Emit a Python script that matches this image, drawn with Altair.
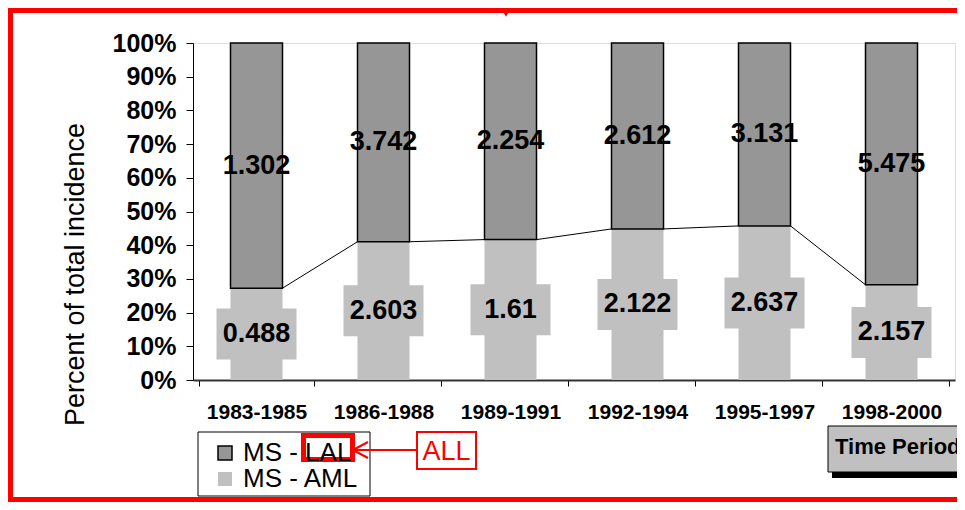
import altair as alt
import pandas as pd

periods = ["1983-1985", "1986-1988", "1989-1991", "1992-1994", "1995-1997", "1998-2000"]
series_names = ["MS - LAL", "MS - AML"]
lal = [1.302, 3.742, 2.254, 2.612, 3.131, 5.475]
aml = [0.488, 2.603, 1.61, 2.122, 2.637, 2.157]
y_ticks = [0, 0.1, 0.2, 0.3, 0.4, 0.5, 0.6, 0.7, 0.8, 0.9, 1.0]

FONT = "Liberation Sans"
DARK = "#969696"
LIGHT = "#C0C0C0"

rows = []
for p, a, l in zip(periods, aml, lal):
    tot = a + l
    fa = a / tot
    rows.append({"period": p, "series": "MS - AML", "value": a, "label": str(a),
                 "y0": 0.0, "y1": fa, "mid": fa / 2})
for p, a, l in zip(periods, aml, lal):
    tot = a + l
    fa = a / tot
    rows.append({"period": p, "series": "MS - LAL", "value": l, "label": str(l),
                 "y0": fa, "y1": 1.0, "mid": (fa + 1) / 2})
df = pd.DataFrame(rows)

fr = [a / (a + l) for a, l in zip(aml, lal)]
seg = pd.DataFrame({
    "p1": periods[:-1], "p2": periods[1:],
    "f1": fr[:-1], "f2": fr[1:],
})

one = pd.DataFrame({"a": [0]})

xscale = alt.Scale(domain=periods)
yscale = alt.Scale(domain=[0, 1], nice=False)

xaxis = alt.Axis(title=None, labelAngle=0, tickBand="extent", tickSize=6,
                 labelFont=FONT, labelFontSize=21, labelFontWeight="bold",
                 labelColor="black", labelBaseline="alphabetic", labelPadding=32,
                 domainColor="#333333", domainWidth=2, tickColor="black",
                 grid=False)
yaxis = alt.Axis(values=y_ticks, format=".0%", labelFont=FONT, labelFontSize=25,
                 labelFontWeight="bold", labelColor="black", labelPadding=10,
                 tickSize=7, tickColor="black", domainColor="black",
                 labelFlush=False, labelOverlap=False, grid=False,
                 title="Percent of total incidence", titleFont=FONT,
                 titleFontSize=27, titleFontWeight="normal", titleColor="black",
                 titleAngle=270, titleX=-110, titleY=231, titleAlign="center",
                 titleBaseline="alphabetic")

legend = alt.Legend(title=None, orient="none", legendX=19, legendY=397,
                    symbolType="square", symbolSize=196, symbolStrokeWidth=1.5,
                    labelFont=FONT, labelFontSize=26, labelColor="black",
                    labelOffset=5, rowPadding=-3, padding=0)


def X(field):
    return alt.X(field, sort=periods, scale=xscale, axis=xaxis)


def Y(field):
    return alt.Y(field, scale=yscale, axis=yaxis)


bars = alt.Chart(df).mark_bar(size=52, strokeWidth=1.5).encode(
    x=X("period:N"),
    y=Y("y0:Q"),
    y2="y1:Q",
    fill=alt.Fill("series:N", scale=alt.Scale(domain=series_names, range=[DARK, LIGHT]),
                  legend=legend),
    stroke=alt.Stroke("series:N", scale=alt.Scale(domain=series_names, range=["black", "transparent"]),
                      legend=legend),
)

lines = alt.Chart(seg).mark_rule(xOffset=26, x2Offset=-26, strokeWidth=1, color="black").encode(
    x=X("p1:N"), x2="p2:N",
    y=Y("f1:Q"), y2="f2:Q",
)

aml_df = df[df["series"] == "MS - AML"]
lal_df = df[df["series"] == "MS - LAL"]

boxes = alt.Chart(aml_df).mark_point(
    shape="M-1,-0.6375L1,-0.6375L1,0.6375L-1,0.6375Z", size=6400,
    filled=True, fill=LIGHT, opacity=1, strokeWidth=0,
).encode(x=X("period:N"), y=Y("mid:Q"))

text_style = dict(font=FONT, fontSize=27, fontWeight="bold", color="black", baseline="middle")
aml_text = alt.Chart(aml_df).mark_text(**text_style).encode(
    x=X("period:N"), y=Y("mid:Q"), text="label:N")
lal_text = alt.Chart(lal_df).mark_text(**text_style).encode(
    x=X("period:N"), y=Y("mid:Q"), text="label:N")


def rect(x, x2, y, y2, **kw):
    return alt.Chart(one).mark_rect(**kw).encode(
        x=alt.value(x), x2=alt.value(x2), y=alt.value(y), y2=alt.value(y2))


def rule(x, x2, y, y2, **kw):
    return alt.Chart(one).mark_rule(**kw).encode(
        x=alt.value(x), x2=alt.value(x2), y=alt.value(y), y2=alt.value(y2))


legend_box = rect(5, 177, 389, 453, fill="white", stroke="black", strokeWidth=1)
lal_mark = rect(110.5, 159.5, 392.5, 416.5, fill="transparent", stroke="red", strokeWidth=5)
all_box = rect(224, 283, 389, 426, fill="white", stroke="red", strokeWidth=2)
all_text = alt.Chart(one).mark_text(font=FONT, fontSize=27, color="red", align="center",
                                    baseline="alphabetic").encode(
    x=alt.value(253.5), y=alt.value(417), text=alt.value("ALL"))
arrow1 = rule(224, 160, 407, 407, color="red", strokeWidth=2)
arrow2 = rule(160, 175, 407, 399, color="red", strokeWidth=2)
arrow3 = rule(160, 175, 407, 415, color="red", strokeWidth=2)

tp_shadow = rect(639, 790, 429, 435, fill="black")
tp_box = rect(635, 790, 383, 429, fill=LIGHT, stroke="black", strokeWidth=1)
tp_text = alt.Chart(one).mark_text(font=FONT, fontSize=22, fontWeight="bold", color="black",
                                   align="left", baseline="alphabetic").encode(
    x=alt.value(642), y=alt.value(411), text=alt.value("Time Period"))

border_top = rule(-185, 775, -32.5, -32.5, color="red", strokeWidth=5)
border_left = rule(-182.5, -182.5, -35, 467, color="red", strokeWidth=5)
border_bottom = rule(-185, 775, 456.5, 456.5, color="red", strokeWidth=5)
tri = alt.Chart(one).mark_point(shape="triangle-down", filled=True, size=40, color="red",
                                opacity=1).encode(x=alt.value(313), y=alt.value(-29))

chart = alt.layer(
    bars, lines, boxes, aml_text, lal_text,
    legend_box, lal_mark, arrow1, arrow2, arrow3, all_box, all_text,
    tp_shadow, tp_box, tp_text,
    border_top, border_left, border_bottom, tri,
).properties(
    width=762, height=337,
    padding={"left": 185, "top": 35, "right": 2, "bottom": 122},
    autosize=alt.AutoSizeParams(type="none"),
).configure_view(stroke="#808080", strokeWidth=1).configure(font=FONT)

chart.save("out.html", embed_options={"renderer": "svg", "actions": False})
